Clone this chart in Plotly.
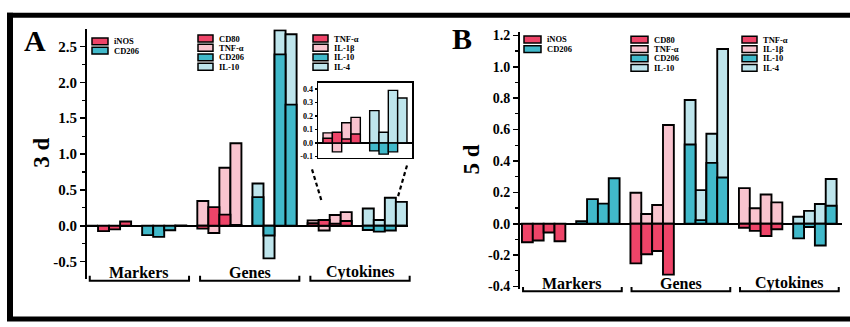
import plotly.graph_objects as go
import numpy as np

W, H = 850, 327
FONT = "Liberation Serif, Times New Roman, serif"
RED, PINK, CYAN, LCYAN = "#EE4468", "#F9C4CF", "#41B9CA", "#BEE5EC"

# ---------------- data ----------------
groups = ["Markers", "Genes", "Cytokines"]

# Panel A (3 d)
A_markers_iNOS = [0.0, -0.075, -0.05, 0.06]
A_markers_CD206 = [-0.13, -0.155, -0.063, 0.005]
A_genes_CD80 = [-0.04, 0.26, 0.155, 0.01]
A_genes_TNFa = [0.345, -0.10, 0.81, 1.15]
A_genes_CD206 = [0.40, -0.135, 2.39, 1.69]
A_genes_IL10 = [0.59, -0.455, 2.725, 2.67]
A_cyto_TNFa = [0.035, 0.08, 0.03, 0.067]
A_cyto_IL1b = [0.075, -0.065, 0.15, 0.19]
A_cyto_IL10 = [-0.058, -0.082, -0.065, 0.0]
A_cyto_IL4 = [0.24, 0.08, 0.39, 0.333]

# Panel B (5 d)
B_markers_iNOS = [-0.118, -0.107, -0.056, -0.111]
B_markers_CD206 = [0.016, 0.157, 0.128, 0.29]
B_genes_CD80 = [-0.252, -0.194, -0.173, -0.324]
B_genes_TNFa = [0.198, 0.062, 0.12, 0.629]
B_genes_CD206 = [0.505, 0.023, 0.388, 0.295]
B_genes_IL10 = [0.788, 0.214, 0.573, 1.113]
B_cyto_TNFa = [-0.025, -0.045, -0.078, -0.035]
B_cyto_IL1b = [0.227, 0.099, 0.186, 0.136]
B_cyto_IL10 = [-0.093, -0.021, -0.138, 0.115]
B_cyto_IL4 = [0.045, 0.082, 0.126, 0.285]

A_tickvals = [-0.5, 0.0, 0.5, 1.0, 1.5, 2.0, 2.5]
B_tickvals = [-0.4, -0.2, 0.0, 0.2, 0.4, 0.6, 0.8, 1.0, 1.2]
I_tickvals = [-0.1, 0.0, 0.1, 0.2, 0.3, 0.4]

legend_markers = [("iNOS", RED), ("CD206", CYAN)]
legend_genes = [("CD80", RED), ("TNF-α", PINK), ("CD206", CYAN), ("IL-10", LCYAN)]
legend_cyto = [("TNF-α", RED), ("IL-1β", PINK), ("IL-10", CYAN), ("IL-4", LCYAN)]

# ---------------- layout geometry (pixels) ----------------
A_X, A_Y, A_XR, A_YR = (87, 408), (26, 283), [0, 29.1], [-0.745, 2.74]
B_X, B_Y, B_XR, B_YR = (520, 842), (29, 293), [-0.18, 29.5], [-0.415, 1.22]
I_X, I_Y, I_XR, I_YR = (318, 412), (81, 158), [19.46, 29.54], [-0.108, 0.446]


def px(x):
    return x / W


def py(y):
    return 1 - y / H


def xdom(p):
    return [px(p[0]), px(p[1])]


def ydom(p):
    return [py(p[1]), py(p[0])]


fig = go.Figure()


def bar(xa, ya, start, vals, color, lw=1.9):
    fig.add_trace(go.Bar(
        x=[start + i + 0.5 for i in range(len(vals))], y=vals, width=1,
        marker=dict(color=color, line=dict(color="black", width=lw)),
        opacity=1, xaxis=xa, yaxis=ya, showlegend=False, hoverinfo="skip"))


def panel(xa, ya, mk_i, mk_c, g_d, g_l, g_c, g_lc, c_d, c_l, c_c, c_lc):
    bar(xa, ya, 0, mk_i, RED)
    bar(xa, ya, 5, mk_c, CYAN)
    bar(xa, ya, 10, g_l, PINK)
    bar(xa, ya, 10, g_d, RED)
    bar(xa, ya, 15, g_lc, LCYAN)
    bar(xa, ya, 15, g_c, CYAN)
    bar(xa, ya, 20, c_l, PINK)
    bar(xa, ya, 20, c_d, RED)
    bar(xa, ya, 25, c_lc, LCYAN)
    bar(xa, ya, 25, c_c, CYAN)


panel("x", "y", A_markers_iNOS, A_markers_CD206, A_genes_CD80, A_genes_TNFa,
      A_genes_CD206, A_genes_IL10, A_cyto_TNFa, A_cyto_IL1b, A_cyto_IL10, A_cyto_IL4)
panel("x2", "y2", B_markers_iNOS, B_markers_CD206, B_genes_CD80, B_genes_TNFa,
      B_genes_CD206, B_genes_IL10, B_cyto_TNFa, B_cyto_IL1b, B_cyto_IL10, B_cyto_IL4)
# inset (zoom of panel A cytokines)
bar("x3", "y3", 20, A_cyto_IL1b, PINK, 1.4)
bar("x3", "y3", 20, A_cyto_TNFa, RED, 1.4)
bar("x3", "y3", 25, A_cyto_IL4, LCYAN, 1.4)
bar("x3", "y3", 25, A_cyto_IL10, CYAN, 1.4)


def fmt(v):
    return f"{v:.1f}"


def yaxis(dom, rng, tv, minor_step, size, anchor, tlen=5, lw=2):
    return dict(domain=ydom(dom), range=rng, anchor=anchor, showgrid=False,
                zeroline=True, zerolinecolor="black", zerolinewidth=lw,
                showline=True, linecolor="black", linewidth=lw,
                ticks="outside", ticklen=tlen, tickwidth=1.5, tickcolor="black",
                tickmode="array", tickvals=tv, ticktext=[fmt(v) for v in tv],
                minor=dict(ticks="outside", ticklen=max(tlen - 2, 1), tickwidth=1.2,
                           tickcolor="black", tickmode="array",
                           tickvals=list(np.arange(tv[0] - minor_step, rng[1], 2 * minor_step) + 0)),
                tickfont=dict(family=FONT, size=size, color="black", weight="bold"),
                fixedrange=True)


def xaxis(dom, rng, anchor):
    return dict(domain=xdom(dom), range=rng, anchor=anchor, showgrid=False,
                zeroline=False, showline=False, showticklabels=False, ticks="",
                fixedrange=True)


shapes, annotations = [], []

# outer frame
for (x0, y0, x1, y1, w) in [(7, 11.5, 850, 11.5, 5), (10, 9, 10, 326, 6), (7, 324, 850, 324, 5)]:
    shapes.append(dict(type="line", xref="paper", yref="paper", x0=px(x0), y0=py(y0),
                       x1=px(x1), y1=py(y1), line=dict(color="black", width=w)))


def slot_px(s, dom, rng):
    return dom[0] + (s - rng[0]) * (dom[1] - dom[0]) / (rng[1] - rng[0])


def brackets(dom, rng, s0, s1, yline, ytop, ylab):
    for g, name in enumerate(groups):
        xa = slot_px(g * 10 + s0, dom, rng)
        xb = slot_px(g * 10 + s1, dom, rng)
        path = f"M{px(xa)},{py(ytop)} L{px(xa)},{py(yline)} L{px(xb)},{py(yline)} L{px(xb)},{py(ytop)}"
        shapes.append(dict(type="path", xref="paper", yref="paper", path=path,
                           line=dict(color="black", width=2)))
        annotations.append(dict(text=name, x=px((xa + xb) / 2), y=py(ylab), xref="paper",
                                yref="paper", showarrow=False, xanchor="center", yanchor="middle",
                                font=dict(family=FONT, size=16, color="black", weight="bold")))


brackets(A_X, A_XR, 0.25, 9.25, 284.5, 279.5, 276)
brackets(B_X, B_XR, 0.1, 9.2, 295.5, 291, 287)


def legend(entries, x0, x1, rows, xt):
    for (name, col), yc in zip(entries, rows):
        shapes.append(dict(type="rect", xref="paper", yref="paper", x0=px(x0), x1=px(x1),
                           y0=py(yc + 3.5), y1=py(yc - 3.5), fillcolor=col,
                           line=dict(color="black", width=1.5)))
        annotations.append(dict(text=name, x=px(xt), y=py(yc), xref="paper", yref="paper",
                                showarrow=False, xanchor="left", yanchor="middle",
                                font=dict(family=FONT, size=8.5, color="black", weight="bold")))


rows4A = [35.5, 45, 54.8, 64.5]
rows4B = [36.7, 46.5, 56, 65.7]
legend(legend_markers, 92, 108, [38.5, 48], 112)
legend(legend_genes, 198, 213, rows4A, 217)
legend(legend_cyto, 313, 328, rows4A, 332)
legend(legend_markers, 524, 541, [36.5, 46.5], 545)
legend(legend_genes, 631, 648, rows4B, 652)
legend(legend_cyto, 742, 757, rows4B, 761)

# dashed connectors for the inset
for (x0, y0, x1, y1) in [(312, 170, 322, 204), (407, 166, 398, 198)]:
    shapes.append(dict(type="line", xref="paper", yref="paper", x0=px(x0), y0=py(y0),
                       x1=px(x1), y1=py(y1), line=dict(color="black", width=2.2, dash="4px,3px")))

# panel letters and axis titles
for txt, x, y, size, ang in [("A", 35, 38, 30, 0), ("B", 462, 35, 30, 0),
                             ("3 d", 42, 153, 23, -90), ("5 d", 472, 160, 23, -90)]:
    annotations.append(dict(text=txt, x=px(x), y=py(y), xref="paper", yref="paper",
                            showarrow=False, xanchor="center", yanchor="middle", textangle=ang,
                            font=dict(family=FONT, size=size, color="black", weight="bold")))

inset_y = yaxis(I_Y, I_YR, I_tickvals, 0.05, 8, "x3", tlen=2, lw=1.5)
inset_y.update(mirror=True, minor=dict(ticks=""))
inset_x = xaxis(I_X, I_XR, "y3")
inset_x.update(showline=True, mirror=True, linecolor="black", linewidth=1.5)

fig.update_layout(
    width=W, height=H, margin=dict(l=0, r=0, t=0, b=0),
    paper_bgcolor="white", plot_bgcolor="white", barmode="overlay", showlegend=False,
    xaxis=xaxis(A_X, A_XR, "y"), yaxis=yaxis(A_Y, A_YR, A_tickvals, 0.25, 15, "x"),
    xaxis2=xaxis(B_X, B_XR, "y2"), yaxis2=yaxis(B_Y, B_YR, B_tickvals, 0.1, 14, "x2"),
    xaxis3=inset_x, yaxis3=inset_y,
    shapes=shapes, annotations=annotations,
)

fig.write_html("out.html", config={"displayModeBar": False, "staticPlot": True},
               post_script="document.body.style.margin='0px';"
                           "document.documentElement.style.overflow='hidden';")
